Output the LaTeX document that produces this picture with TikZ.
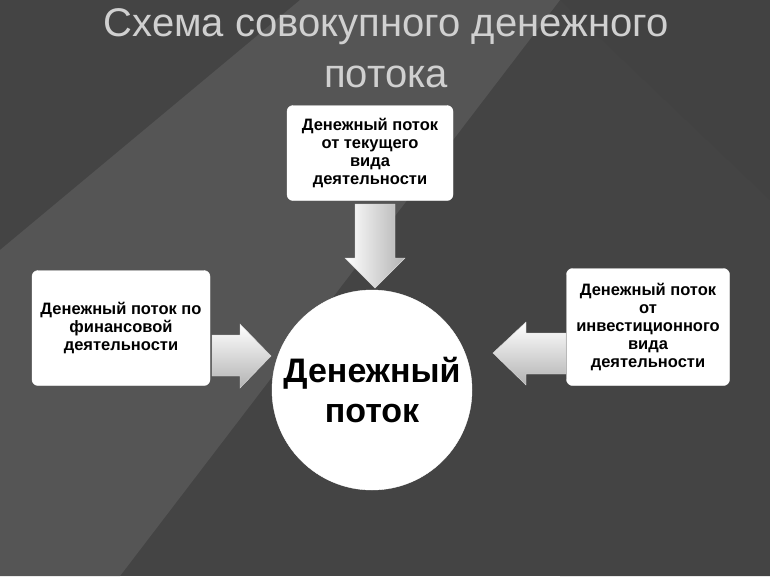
\documentclass[tikz,border=0pt]{standalone}
\usepackage{fontspec}
\setmainfont{Liberation Sans}
\usepackage{tikz}
\definecolor{bgdark}{HTML}{444444}
\definecolor{bgband}{HTML}{555555}
\definecolor{titlegray}{HTML}{D0D0D0}
\tikzset{
        box/.style={draw=white, fill=white, rounded corners=6pt, align=center,
                    font=\bfseries\fontsize{16.5}{18}\selectfont},
        bigarrow/.style={draw=white!70!gray, shading=axis,
                         top color=white, bottom color=gray!60},
        title/.style={text=titlegray, font=\fontsize{40}{46}\selectfont,
                      align=center},
}
\begin{document}
\begin{tikzpicture}[x=1pt,y=-1pt]
    % background
    \fill[bgdark] (0,0) rectangle (770,576);
    \fill[bgband] (0,576) -- (0,250) -- (300,0) -- (560,0) -- (120,576) -- cycle;
    \fill[bgband!80!black] (560,576) -- (770,330) -- (770,576) -- cycle;
    \fill[black!75,opacity=0.35] (560,0) -- (770,0) -- (770,200) -- cycle;
    \useasboundingbox (0,0) rectangle (770,576);

    % title
    \node[title] (t1) at (386,27) {Схема совокупного денежного};
    \node[title] (t2) at (386,77) {потока};

    % boxes
    \node[box, minimum width=166, minimum height=95] (top) at (370,153)
         {Денежный поток\\от текущего\\вида\\деятельности};
    \node[box, minimum width=178, minimum height=115] (left) at (121,328)
         {Денежный поток по\\финансовой\\деятельности};
    \node[box, minimum width=163, minimum height=117] (right) at (648,327)
         {Денежный поток\\от\\инвестиционного\\вида\\деятельности};
    \node[circle, fill=white, draw=white, minimum size=200, align=center,
          font=\bfseries\fontsize{34}{40}\selectfont] (flow) at (372,390)
         {Денежный\\поток};

    % arrows
    \path[draw=white!70!gray, left color=white, right color=gray!60]
         (355,204) -- (395,204) -- (395,258) -- (405,258) -- (375,288)
         -- (345,258) -- (355,258) -- cycle;
    \path[bigarrow] (212,335) -- (240,335) -- (240,324) -- (271,356)
         -- (240,388) -- (240,376) -- (212,376) -- cycle;
    \path[bigarrow] (566,333) -- (526,333) -- (526,322) -- (493,353)
         -- (526,385) -- (526,374) -- (566,374) -- cycle;
\end{tikzpicture}
\end{document}
